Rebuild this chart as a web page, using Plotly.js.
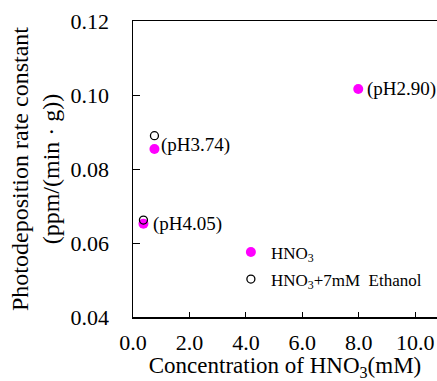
<!DOCTYPE html>
<html>
<head>
<meta charset="utf-8">
<script src="https://cdn.plot.ly/plotly-3.0.1.min.js"></script>
<style>html,body{margin:0;padding:0;background:#fff;}#chart{width:437px;height:381px;}</style>
</head>
<body>
<div id="chart"></div>
<script>
// Data
const hno3X = [0.37, 0.76, 7.98];
const hno3Y = [0.0652, 0.0854, 0.1016];
const ethX = [0.37, 0.76];
const ethY = [0.0662, 0.0890];
const phLabels = ['(pH4.05)', '(pH3.74)', '(pH2.90)'];
const xTickVals = [0, 2, 4, 6, 8, 10];
const xTickText = ['0.0', '2.0', '4.0', '6.0', '8.0', '10.0'];
const yTickVals = [0.04, 0.06, 0.08, 0.10, 0.12];
const yTickText = ['0.04', '0.06', '0.08', '0.10', '0.12'];

const FONT = 'Liberation Serif, Times New Roman, serif';

const traces = [
  {
    x: hno3X, y: hno3Y, type: 'scatter', mode: 'markers',
    name: 'HNO<sub>3</sub>', legendgroup: 'a',
    marker: {color: '#FF00FF', size: 10, symbol: 'circle', line: {width: 0}}
  },
  {
    x: ethX, y: ethY, type: 'scatter', mode: 'markers',
    name: 'HNO<sub>3</sub>+7mM  Ethanol', legendgroup: 'b',
    marker: {color: '#000000', size: 8, symbol: 'circle-open', line: {width: 1.3, color: '#000'}}
  }
];

const labelShiftY = [0, 4, 0];
const annotations = phLabels.map((t, i) => ({
  x: hno3X[i], y: hno3Y[i], xref: 'x', yref: 'y',
  text: t, showarrow: false, xanchor: 'left', yanchor: 'middle',
  xshift: [8, 5, 7][i], yshift: labelShiftY[i],
  font: {family: FONT, size: 19, color: '#000'}
}));

const layout = {
  width: 437, height: 381,
  margin: {l: 133, r: 0, t: 21, b: 64},
  paper_bgcolor: '#fff', plot_bgcolor: '#fff',
  showlegend: true,
  legend: {
    x: 0.322, y: 0.279, xanchor: 'left', yanchor: 'top',
    font: {family: FONT, size: 17, color: '#000'},
    bgcolor: 'rgba(0,0,0,0)', borderwidth: 0, tracegroupgap: 2
  },
  xaxis: {
    range: [0, 10.77], tickvals: xTickVals, ticktext: xTickText,
    ticks: 'inside', ticklen: 5, tickwidth: 1, tickcolor: '#000',
    showline: true, linecolor: '#000', linewidth: 1.5, mirror: true,
    showgrid: false, zeroline: false,
    tickfont: {family: FONT, size: 22, color: '#000'},
    ticklabelstandoff: 5,
    title: {text: 'Concentration of HNO<sub>3</sub>(mM)', font: {family: FONT, size: 23, color: '#000'}, standoff: 3}
  },
  yaxis: {
    range: [0.04, 0.12], tickvals: yTickVals, ticktext: yTickText,
    ticks: 'inside', ticklen: 7, tickwidth: 1, tickcolor: '#000',
    showline: true, linecolor: '#000', linewidth: 1.5,
    showgrid: false, zeroline: false,
    tickfont: {family: FONT, size: 22, color: '#000'},
    ticklabelstandoff: 18,
    title: {text: 'Photodeposition rate constant<br>(ppm/(min · g))', font: {family: FONT, size: 24, color: '#000'}, standoff: 4}
  },
  annotations: annotations
};

Plotly.newPlot('chart', traces, layout, {displayModeBar: false, staticPlot: true});
</script>
</body>
</html>
